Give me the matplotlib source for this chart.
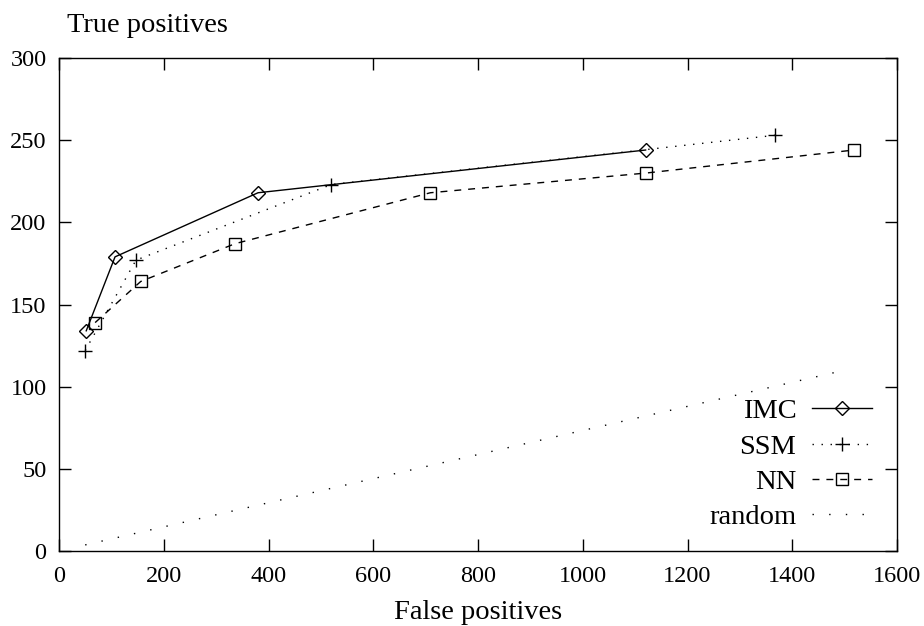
import matplotlib
matplotlib.use("Agg")
import matplotlib.pyplot as plt

# ROC-style comparison: false positives vs. true positives
imc_fp = [52, 107, 380, 1120]
imc_tp = [134, 179, 218, 244]

ssm_fp = [50, 147, 520, 1368]
ssm_tp = [122, 177, 223, 253]

nn_fp = [69, 156, 336, 709, 1121, 1518]
nn_tp = [139, 164, 187, 218, 230, 244]

random_fp = [50, 1500]
random_tp = [3.7, 110]

x_ticks = [0, 200, 400, 600, 800, 1000, 1200, 1400, 1600]
y_ticks = [0, 50, 100, 150, 200, 250, 300]

plt.rcParams["font.family"] = ["Liberation Serif", "DejaVu Serif"]

fig = plt.figure(figsize=(9.24, 6.26), dpi=100)
ax = fig.add_axes([59 / 924, 1 - 551 / 626, 838 / 924, 493 / 626])

lw = 1.0
ax.plot(imc_fp, imc_tp, color="black", lw=lw, linestyle="-",
        marker="D", markersize=7, markerfacecolor="none",
        markeredgecolor="black", markeredgewidth=lw, label="IMC")
ax.plot(ssm_fp, ssm_tp, color="black", lw=lw, linestyle=(0, (1, 5.5)),
        marker="+", markersize=10.5, markeredgewidth=lw, label="SSM")
ax.plot(nn_fp, nn_tp, color="black", lw=lw, linestyle=(0, (5, 5)),
        marker="s", markersize=9, markerfacecolor="none",
        markeredgecolor="black", markeredgewidth=lw, label="NN")
ax.plot(random_fp, random_tp, color="black", lw=lw,
        linestyle=(0, (1, 11)), label="random")

ax.set_xlim(0, 1600)
ax.set_ylim(0, 300)
ax.set_xticks(x_ticks)
ax.set_yticks(y_ticks)
ax.tick_params(direction="in", length=8.6, width=1.0, labelsize=17.5,
               top=True, right=True)
ax.tick_params(axis="x", pad=11)
ax.tick_params(axis="y", pad=9)
for side in ax.spines.values():
    side.set_linewidth(1.0)

ax.set_xlabel("False positives", fontsize=20.5, labelpad=9)
fig.text(67 / 924, 1 - 25 / 626, "True positives", fontsize=20.5,
         ha="left", va="center")

leg = ax.legend(loc="lower right", bbox_to_anchor=(0.970, 0.042),
                frameon=False, markerfirst=False, fontsize=20.5,
                handlelength=2.1, handletextpad=0.55, labelspacing=0.33,
                borderpad=0, borderaxespad=0, numpoints=1)

fig.savefig("out.png", dpi=100)
